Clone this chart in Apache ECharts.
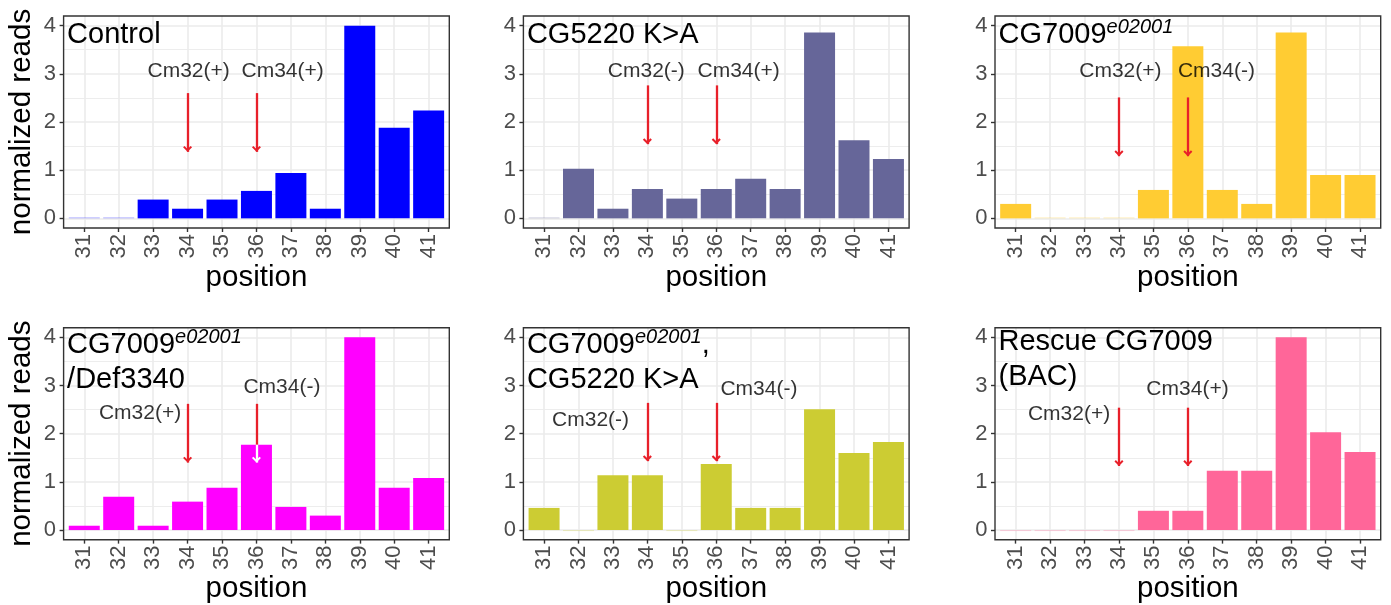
<!DOCTYPE html>
<html>
<head>
<meta charset="utf-8">
<script src="https://cdn.jsdelivr.net/npm/echarts@6/dist/echarts.min.js"></script>
<style>html,body{margin:0;padding:0;background:#fff}#chart{width:1391px;height:605px}</style>
</head>
<body>
<div id="chart"></div>
<script>
// ---------- data ----------
const positions = [31, 32, 33, 34, 35, 36, 37, 38, 39, 40, 41];
const tickLabels = ['31', '32', '33', '34', '35', '36', '37', '38', '39', '40', '41'];
const yTicks = [0, 1, 2, 3, 4];

const readsControl = [0, 0, 0.39, 0.20, 0.39, 0.57, 0.94, 0.20, 4.00, 1.88, 2.24];
const readsCG5220  = [0, 1.03, 0.20, 0.61, 0.41, 0.61, 0.82, 0.61, 3.86, 1.62, 1.23];
const readsCG7009  = [0.30, 0, 0, 0, 0.59, 3.57, 0.59, 0.30, 3.86, 0.90, 0.90];
const readsDef3340 = [0.09, 0.69, 0.09, 0.59, 0.88, 1.77, 0.48, 0.30, 4.00, 0.88, 1.08];
const readsDouble  = [0.46, 0, 1.14, 1.14, 0, 1.37, 0.46, 0.46, 2.51, 1.60, 1.83];
const readsRescue  = [0, 0, 0, 0, 0.40, 0.40, 1.23, 1.23, 4.00, 2.03, 1.62];

const panelReads = [readsControl, readsCG5220, readsCG7009, readsDef3340, readsDouble, readsRescue];
const panelTitles = [
  '{m|Control}',
  '{m|CG5220 K>A}',
  '{m|CG7009}{s|e02001}',
  '{m|CG7009}{s|e02001}\n{m|/Def3340}',
  '{m|CG7009}{s|e02001}{m|,}\n{m|CG5220 K>A}',
  '{m|Rescue CG7009}\n{m|(BAC)}'
];
const barColors = ['#0000FF', '#666699', '#FFCC33', '#FF00FF', '#CCCC33', '#FF6699'];

// annotations (data coordinates)
const cm32Text  = ['Cm32(+)', 'Cm32(-)', 'Cm32(+)', 'Cm32(+)', 'Cm32(-)', 'Cm32(+)'];
const cm32TextX = [34.03, 33.97, 34.04, 32.62, 32.35, 32.55];
const cm32TextY = [3.05, 3.05, 3.05, 2.42, 2.28, 2.40];
const cm34Text  = ['Cm34(+)', 'Cm34(+)', 'Cm34(-)', 'Cm34(-)', 'Cm34(-)', 'Cm34(+)'];
const cm34TextX = [36.76, 36.65, 36.83, 36.74, 37.24, 35.99];
const cm34TextY = [3.05, 3.05, 3.05, 2.96, 2.92, 2.92];
const arrowX     = [34, 36];
const arrowStart = [2.60, 2.76, 2.51, 2.62, 2.64, 2.54];
const arrowEnd   = [1.38, 1.54, 1.29, 1.40, 1.43, 1.33];
const arrowKnockout = [false, false, false, true, false, false];

// ---------- layout / style ----------
const FONT = '"Liberation Sans", Arial, Helvetica, sans-serif';
const colLeft = [63.6, 523.4, 995.0];
const rowTop = [16, 327.7];
const PW = 385.7, PH = 212;
const titleTopOffset = [1.5, 1.5, 1.5, -0.3, -0.3, -3.5];
const RED = '#E8202A';
const GRIDC = '#EBEBEB';
const chevron = 'path://M0,0 L0.01,0 L0,0.01 Z M12,0 L11.99,0 L12,0.01 Z M0,12 L0.01,12 L0,11.99 Z M6,6 L10.5,10.5 L9.1,11.9 L6,8.8 L2.9,11.9 L1.5,10.5 Z';

const grids = [], xAxes = [], yAxes = [], series = [], titles = [];

panelReads.forEach((reads, i) => {
  const L = colLeft[i % 3], T = rowTop[Math.floor(i / 3)];
  const s = PW / 11.2, u = PH / 4.4;
  const gO = grids.length, gH = gO + 1, gV = gO + 2;

  grids.push({ left: L, top: T, width: PW, height: PH, show: true, z: 1,
    borderColor: '#333333', borderWidth: 1.4, backgroundColor: 'rgba(0,0,0,0)' });
  xAxes.push({ gridIndex: gO, type: 'value', show: false, min: 30.4, max: 41.6 });
  yAxes.push({ gridIndex: gO, type: 'value', show: false, min: -0.2, max: 4.2 });

  grids.push({ left: L, top: T + 0.2 * u, width: PW, height: 4 * u });
  xAxes.push({ gridIndex: gH, type: 'value', show: false, min: 0, max: 1 });
  yAxes.push({ gridIndex: gH, type: 'value', min: yTicks[0], max: yTicks[yTicks.length - 1], interval: 1,
    axisLine: { show: false },
    axisTick: { show: true, length: 4, lineStyle: { color: '#333333', width: 1.4 } },
    axisLabel: { fontSize: 22, color: '#4D4D4D', margin: 7.5, fontFamily: FONT },
    splitLine: { show: true, lineStyle: { color: GRIDC, width: 1.6 } },
    minorTick: { show: false, splitNumber: 2 },
    minorSplitLine: { show: true, lineStyle: { color: GRIDC, width: 0.9 } },
    name: (i % 3 === 0) ? 'normalized reads' : '',
    nameLocation: 'middle', nameRotate: 90, nameGap: 27,
    nameTextStyle: { fontSize: 29.5, color: '#000', fontFamily: FONT } });

  grids.push({ left: L + 0.6 * s, top: T, width: 10 * s, height: PH });
  xAxes.push({ gridIndex: gV, type: 'value', min: positions[0], max: positions[positions.length - 1], interval: 1,
    axisLine: { show: false },
    axisTick: { show: true, length: 4, lineStyle: { color: '#333333', width: 1.4 } },
    axisLabel: { rotate: 90, fontSize: 22, color: '#4D4D4D', margin: 6, fontFamily: FONT,
      formatter: v => tickLabels[positions.indexOf(Math.round(v))] },
    splitLine: { show: true, lineStyle: { color: GRIDC, width: 1.6 } },
    name: 'position', nameLocation: 'middle', nameGap: 30.5,
    nameTextStyle: { fontSize: 29.5, color: '#000', fontFamily: FONT } });
  yAxes.push({ gridIndex: gV, type: 'value', show: false, min: 0, max: 1 });

  const mlData = [];
  arrowX.forEach(ax => {
    const barVal = reads[positions.indexOf(ax)];
    if (arrowKnockout[i] && barVal < arrowStart[i] && barVal > arrowEnd[i]) {
      mlData.push([{ coord: [ax, arrowStart[i]], symbol: 'none', lineStyle: { color: RED } },
                   { coord: [ax, barVal], symbol: 'none' }]);
      mlData.push([{ coord: [ax, barVal], symbol: 'none', lineStyle: { color: '#FFFFFF' } },
                   { coord: [ax, arrowEnd[i]], symbol: chevron }]);
    } else {
      mlData.push([{ coord: [ax, arrowStart[i]], symbol: 'none', lineStyle: { color: RED } },
                   { coord: [ax, arrowEnd[i]], symbol: chevron }]);
    }
  });

  series.push({
    type: 'bar', xAxisIndex: gO, yAxisIndex: gO, z: 2,
    barWidth: 0.9 * s, barMinHeight: 1,
    itemStyle: { color: barColors[i] },
    data: positions.map((x, k) => reads[k] === 0
      ? { value: [x, reads[k]], itemStyle: { opacity: 0.3 } }
      : { value: [x, reads[k]] }),
    markLine: {
      silent: true, animation: false, symbol: ['none', chevron], symbolSize: 12,
      label: { show: false },
      lineStyle: { color: RED, width: 2.3, type: 'solid' },
      data: mlData
    }
  });

  series.push({
    type: 'scatter', xAxisIndex: gO, yAxisIndex: gO, z: 4, silent: true,
    symbolSize: 1, itemStyle: { color: 'rgba(0,0,0,0)' },
    label: { show: true, position: 'inside', formatter: '{b}', fontSize: 21, color: '#000000',
      textBorderWidth: 0, textShadowBlur: 0, fontFamily: FONT },
    data: [
      { name: cm32Text[i], value: [cm32TextX[i], cm32TextY[i]] },
      { name: cm34Text[i], value: [cm34TextX[i], cm34TextY[i]] }
    ]
  });

  titles.push({
    left: L + 3.5, top: T + titleTopOffset[i], padding: 0,
    text: panelTitles[i],
    textStyle: { fontFamily: FONT, fontSize: 29, color: '#000', fontWeight: 'normal',
      rich: {
        m: { fontFamily: FONT, fontSize: 29, lineHeight: 35, color: '#000' },
        s: { fontFamily: FONT, fontSize: 20, fontStyle: 'italic', lineHeight: 18, verticalAlign: 'top', color: '#000' }
      } }
  });
});

const chart = echarts.init(document.getElementById('chart'), null, { renderer: 'canvas' });
chart.setOption({
  backgroundColor: '#ffffff',
  animation: false,
  title: titles,
  grid: grids,
  xAxis: xAxes,
  yAxis: yAxes,
  series: series
});
</script>
</body>
</html>
